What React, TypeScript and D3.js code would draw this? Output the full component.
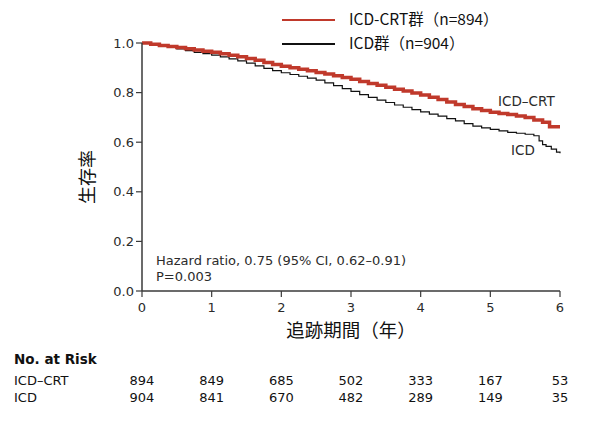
import React from "react";
import * as d3 from "d3";

// Kaplan–Meier estimates (years, survival)
const crtTimes = [0, 0.125, 0.25, 0.375, 0.5, 0.625, 0.75, 0.875, 1.0, 1.125, 1.25, 1.375, 1.5, 1.625, 1.75, 1.875, 2.0, 2.125, 2.25, 2.375, 2.5, 2.625, 2.75, 2.875, 3.0, 3.125, 3.25, 3.375, 3.5, 3.625, 3.75, 3.875, 4.0, 4.125, 4.25, 4.375, 4.5, 4.625, 4.75, 4.875, 5.0, 5.125, 5.25, 5.375, 5.5, 5.625, 5.75, 5.85, 6.0];
const crtSurv = [1.0, 0.995, 0.99, 0.986, 0.982, 0.977, 0.972, 0.967, 0.963, 0.957, 0.951, 0.945, 0.938, 0.93, 0.921, 0.913, 0.906, 0.9, 0.894, 0.888, 0.881, 0.875, 0.868, 0.861, 0.854, 0.845, 0.837, 0.83, 0.822, 0.814, 0.806, 0.798, 0.79, 0.781, 0.772, 0.762, 0.752, 0.744, 0.735, 0.728, 0.721, 0.716, 0.712, 0.706, 0.7, 0.69, 0.68, 0.662, 0.662];
const icdTimes = [0, 0.125, 0.25, 0.375, 0.5, 0.625, 0.75, 0.875, 1.0, 1.125, 1.25, 1.375, 1.5, 1.625, 1.75, 1.875, 2.0, 2.125, 2.25, 2.375, 2.5, 2.625, 2.75, 2.875, 3.0, 3.125, 3.25, 3.375, 3.5, 3.625, 3.75, 3.875, 4.0, 4.125, 4.25, 4.375, 4.5, 4.625, 4.75, 4.875, 5.0, 5.125, 5.25, 5.375, 5.5, 5.625, 5.7, 5.75, 5.8, 5.875, 5.95, 6.0];
const icdSurv = [1.0, 0.994, 0.988, 0.982, 0.976, 0.969, 0.962, 0.957, 0.951, 0.944, 0.936, 0.928, 0.919, 0.908, 0.898, 0.889, 0.88, 0.873, 0.866, 0.858, 0.85, 0.839, 0.828, 0.816, 0.805, 0.792, 0.781, 0.77, 0.76, 0.75, 0.741, 0.731, 0.722, 0.713, 0.705, 0.695, 0.686, 0.675, 0.665, 0.658, 0.652, 0.646, 0.64, 0.636, 0.632, 0.626, 0.605, 0.59, 0.583, 0.572, 0.56, 0.555];

const xTickValues = [0, 1, 2, 3, 4, 5, 6];
const yTickValues = [0, 0.2, 0.4, 0.6, 0.8, 1.0];
const riskCRT = [894, 849, 685, 502, 333, 167, 53];
const riskICD = [904, 841, 670, 482, 289, 149, 35];

const legendLabels = ["ICD-CRT群（n=894）", "ICD群（n=904）"];
const seriesColors = ["#c0392b", "#111111"];

const latin = "'DejaVu Sans', 'Noto Sans', sans-serif";
const cjk = "'Noto Sans CJK JP', 'Noto Sans', sans-serif";

export default function App() {
  const x = d3.scaleLinear().domain([0, 6]).range([142, 560]);
  const y = d3.scaleLinear().domain([0, 1]).range([291, 43]);
  const line = d3
    .line<[number, number]>()
    .x((d) => x(d[0]))
    .y((d) => y(d[1]))
    .curve(d3.curveStepAfter);

  const crtData = crtTimes.map((t, i) => [t, crtSurv[i]] as [number, number]);
  const icdData = icdTimes.map((t, i) => [t, icdSurv[i]] as [number, number]);
  const axisColor = "#3a3a3a";
  const textColor = "#2b2b2b";

  return (
    <svg
      width={590}
      height={430}
      style={{ position: "absolute", left: 0, top: 0, background: "#fff" }}
    >
      {/* legend */}
      {legendLabels.map((lab, i) => (
        <g key={lab}>
          <line
            x1={282}
            x2={335}
            y1={20 + i * 24}
            y2={20 + i * 24}
            stroke={seriesColors[i]}
            strokeWidth={2}
          />
          <text x={349} y={25 + i * 24} fontFamily={cjk} fontSize={15.5} fill="#111">
            {lab}
          </text>
        </g>
      ))}

      {/* curves */}
      <path d={line(icdData) || ""} fill="none" stroke={seriesColors[1]} strokeWidth={1.2} />
      <path d={line(crtData) || ""} fill="none" stroke={seriesColors[0]} strokeWidth={3.5} />

      {/* y axis */}
      <line x1={142} x2={142} y1={43} y2={291} stroke={axisColor} strokeWidth={1.5} />
      {yTickValues.map((v) => (
        <g key={v}>
          <line x1={136} x2={142} y1={y(v)} y2={y(v)} stroke={axisColor} strokeWidth={1.2} />
          <text
            x={134}
            y={y(v)}
            dy="0.35em"
            textAnchor="end"
            fontFamily={latin}
            fontSize={13}
            fill={textColor}
          >
            {d3.format(".1f")(v)}
          </text>
        </g>
      ))}

      {/* x axis */}
      <line x1={142} x2={560} y1={291} y2={291} stroke={axisColor} strokeWidth={1.5} />
      {xTickValues.map((t) => (
        <g key={t}>
          <line x1={x(t)} x2={x(t)} y1={291} y2={297} stroke={axisColor} strokeWidth={1.2} />
          <text
            x={x(t)}
            y={312}
            textAnchor="middle"
            fontFamily={latin}
            fontSize={13}
            fill={textColor}
          >
            {t}
          </text>
        </g>
      ))}

      {/* axis titles */}
      <text x={351} y={337} textAnchor="middle" fontFamily={cjk} fontSize={18.5} fill="#111">
        追跡期間（年）
      </text>
      <text
        transform="translate(94,177) rotate(-90)"
        textAnchor="middle"
        fontFamily={cjk}
        fontSize={18}
        fill="#111"
      >
        生存率
      </text>

      {/* curve labels */}
      <text x={498} y={106} fontFamily={latin} fontSize={13.5} fill={textColor}>
        ICD–CRT
      </text>
      <text x={511} y={155} fontFamily={latin} fontSize={13.5} fill={textColor}>
        ICD
      </text>

      {/* annotation */}
      <text x={156} y={265} fontFamily={latin} fontSize={13} fill={textColor}>
        Hazard ratio, 0.75 (95% CI, 0.62–0.91)
      </text>
      <text x={156} y={281} fontFamily={latin} fontSize={13} fill={textColor}>
        P=0.003
      </text>

      {/* risk table */}
      <text x={14} y={364} fontFamily={latin} fontSize={13.5} fontWeight="bold" fill="#111">
        No. at Risk
      </text>
      <text x={14} y={385} fontFamily={latin} fontSize={13} fill="#111">
        ICD–CRT
      </text>
      <text x={14} y={402} fontFamily={latin} fontSize={13} fill="#111">
        ICD
      </text>
      {xTickValues.map((t, i) => (
        <g key={"r" + t}>
          <text x={x(t)} y={385} textAnchor="middle" fontFamily={latin} fontSize={13} fill="#111">
            {riskCRT[i]}
          </text>
          <text x={x(t)} y={402} textAnchor="middle" fontFamily={latin} fontSize={13} fill="#111">
            {riskICD[i]}
          </text>
        </g>
      ))}
    </svg>
  );
}
